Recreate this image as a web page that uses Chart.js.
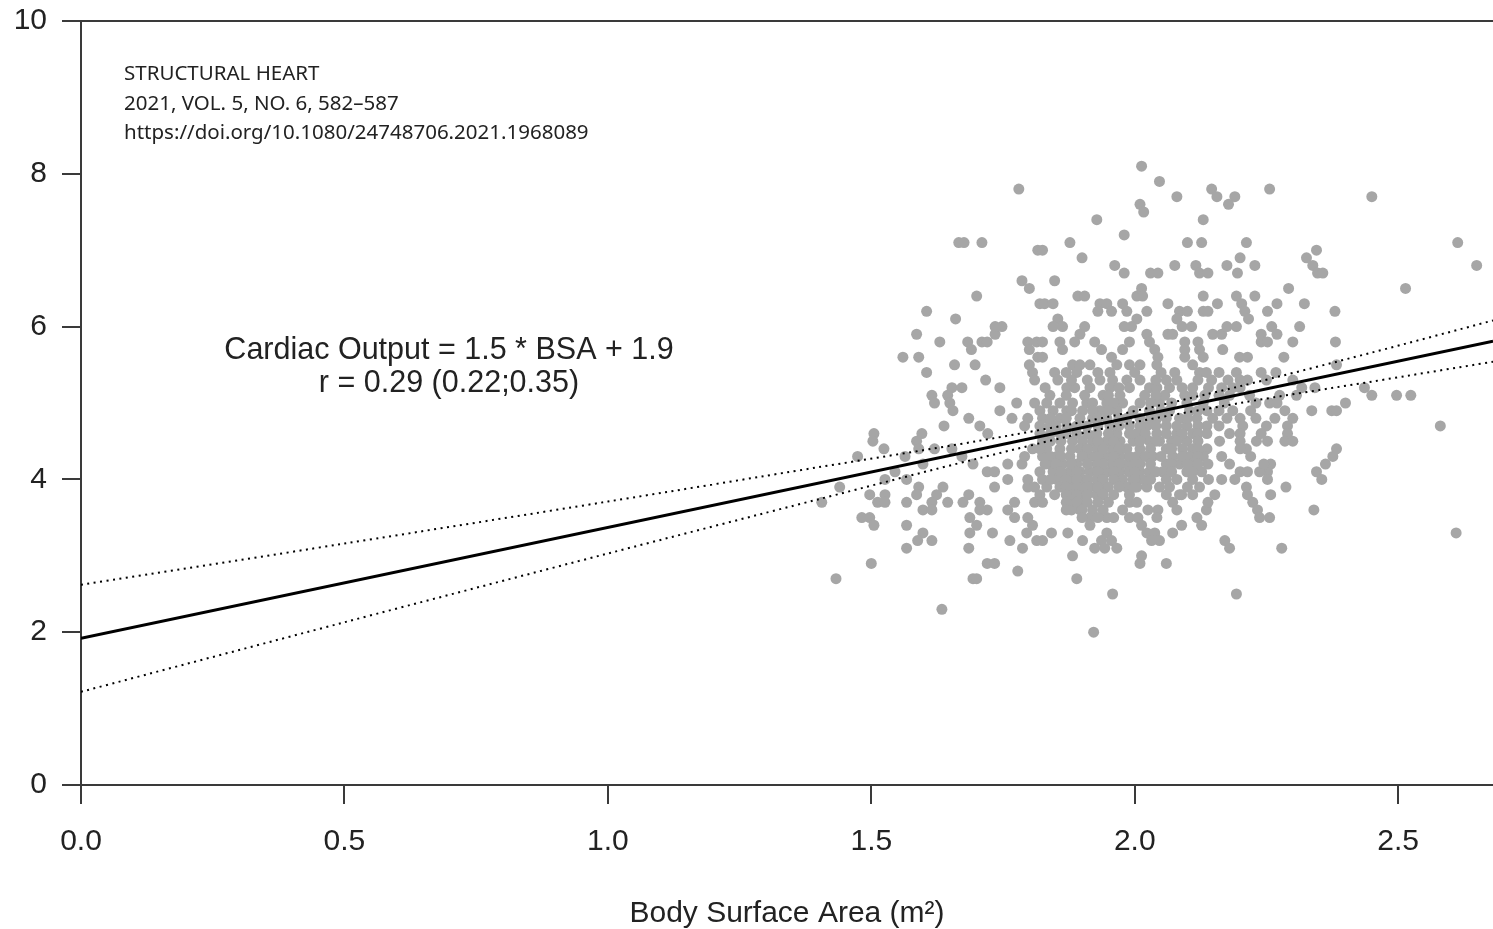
<!DOCTYPE html>
<html>
<head>
<meta charset="utf-8">
<title>Cardiac output vs body surface area</title>
<script src="https://cdn.jsdelivr.net/npm/chart.js@4.4.1/dist/chart.umd.min.js"></script>
<style>
  html, body { margin: 0; padding: 0; background: #fff; }
  #wrap { width: 1493px; height: 929px; position: relative; }
</style>
</head>
<body>
<div id="wrap"><canvas id="my-chart"></canvas></div>
<script>
'use strict';

// DATA (BSA in m², cardiac output in L/min)

let patients = [
  [1.78, 7.8], [1.666, 7.1], [1.676, 7.1], [1.71, 7.1], [1.816, 7.0], [1.786, 6.6], [1.80, 6.5],
  [1.70, 6.4], [1.605, 6.2], [1.66, 6.1], [1.586, 5.9], [1.63, 5.8], [1.683, 5.8], [1.69, 5.7],
  [1.71, 5.8], [1.72, 5.8], [1.735, 5.9], [1.748, 6.0], [1.735, 6.0], [1.56, 5.6], [1.59, 5.6],
  [1.605, 5.4], [1.658, 5.5], [1.697, 5.5], [1.717, 5.3], [1.744, 5.2], [1.653, 5.2], [1.672, 5.2],
  [1.615, 5.1], [1.645, 5.1], [1.797, 5.8], [1.814, 5.8], [1.80, 5.7], [1.80, 5.5], [1.806, 5.4],
  [1.81, 5.3], [1.816, 5.6], [1.82, 6.3],

  [2.013, 8.1], [2.047, 7.9], [2.08, 7.7], [2.01, 7.6], [2.017, 7.5], [2.146, 7.8], [2.156, 7.7],
  [2.19, 7.7], [2.178, 7.6], [1.928, 7.4], [2.13, 7.4], [1.98, 7.2], [1.877, 7.1], [2.10, 7.1],
  [2.127, 7.1], [2.212, 7.1], [1.825, 7.0], [1.90, 6.9], [2.20, 6.9], [1.962, 6.8], [1.98, 6.7],
  [2.03, 6.7], [2.044, 6.7], [2.076, 6.8], [2.116, 6.8], [2.123, 6.7], [2.139, 6.7], [2.175, 6.8],
  [2.195, 6.7], [2.228, 6.8], [1.848, 6.6], [2.013, 6.5], [2.004, 6.4], [2.015, 6.4], [1.829, 6.3],
  [1.845, 6.3], [1.892, 6.4], [1.905, 6.4], [1.934, 6.3], [1.947, 6.3], [1.977, 6.3], [1.985, 6.2],
  [2.063, 6.3], [2.13, 6.4], [2.157, 6.3], [2.193, 6.4], [2.203, 6.3], [2.209, 6.2], [2.216, 6.1],
  [2.228, 6.4], [1.93, 6.2], [1.956, 6.2], [2.023, 6.2], [2.085, 6.2], [2.10, 6.2], [2.08, 6.1],
  [2.09, 6.0], [2.108, 6.0], [2.13, 6.2], [2.139, 6.2], [1.854, 6.1], [1.845, 6.0], [1.863, 6.0],
  [1.905, 6.0], [1.896, 5.9], [1.886, 5.8], [2.004, 6.1], [1.994, 6.0], [1.98, 6.0], [2.023, 5.9],
  [2.028, 5.8], [2.038, 5.7], [2.044, 5.6], [2.042, 5.5], [2.063, 5.9], [2.072, 5.9], [2.095, 5.8],
  [2.095, 5.7], [2.095, 5.6], [2.12, 5.8], [2.123, 5.7], [2.13, 5.6], [2.148, 5.9], [2.165, 5.9],
  [2.175, 6.0], [2.193, 6.0], [2.167, 5.7], [2.199, 5.6], [2.214, 5.6], [2.24, 5.9], [2.24, 5.8],
  [1.825, 5.8], [1.825, 5.6], [1.858, 5.8], [1.863, 5.7], [1.924, 5.8], [1.937, 5.7], [1.956, 5.6],
  [1.966, 5.5], [1.953, 5.4], [1.977, 5.7], [1.99, 5.8], [1.882, 5.5], [1.896, 5.5], [1.89, 5.4],
  [1.915, 5.5], [1.848, 5.4], [1.854, 5.3], [1.871, 5.2], [1.886, 5.2], [1.915, 5.2], [1.99, 5.5],
  [2.01, 5.5], [1.985, 5.3], [2.01, 5.3], [2.028, 5.2], [2.042, 5.2], [2.076, 5.4], [2.08, 5.3],
  [2.11, 5.5], [2.123, 5.4], [2.136, 5.4], [2.146, 5.3], [2.165, 5.2], [2.186, 5.2], [2.193, 5.4],
  [2.214, 5.3], [1.934, 5.3], [1.94, 5.1],

  [2.256, 7.8], [2.45, 7.7], [2.613, 7.1], [2.649, 6.8], [2.345, 7.0], [2.326, 6.9], [2.338, 6.8],
  [2.347, 6.7], [2.357, 6.7], [2.292, 6.5], [2.514, 6.5], [2.27, 6.3], [2.252, 6.2], [2.322, 6.3],
  [2.38, 6.2], [2.26, 6.0], [2.27, 5.9], [2.252, 5.8], [2.313, 6.0], [2.30, 5.8], [2.381, 5.8],
  [2.283, 5.6], [2.383, 5.5], [2.268, 5.4], [2.25, 5.3], [2.30, 5.3], [2.317, 5.2], [2.342, 5.2],
  [2.436, 5.2], [2.45, 5.1], [2.497, 5.1], [2.524, 5.1], [2.275, 5.1], [2.307, 5.1], [2.40, 5.0],

  [2.336, 4.9], [2.374, 4.9], [2.383, 4.9], [2.285, 4.9], [2.266, 4.8], [2.30, 4.8], [2.256, 5.0],
  [2.27, 5.0], [2.58, 4.7], [2.29, 4.7], [2.29, 4.6], [2.285, 4.5], [2.30, 4.5], [2.252, 4.5],
  [2.383, 4.4], [2.376, 4.3], [2.362, 4.2], [2.345, 4.1], [2.355, 4.0], [2.258, 4.2], [2.252, 4.1],
  [2.252, 4.0], [2.287, 3.9], [2.258, 3.8], [2.34, 3.6], [2.256, 3.5], [2.61, 3.3], [2.279, 3.1],

  [1.62, 5.0], [1.649, 5.0], [1.655, 4.9], [1.744, 4.9], [1.776, 5.0], [1.767, 4.8], [1.797, 4.8],
  [1.81, 5.0], [1.685, 4.8], [1.706, 4.7], [1.721, 4.6], [1.638, 4.7], [1.505, 4.6], [1.503, 4.5],
  [1.596, 4.6], [1.586, 4.5], [1.59, 4.4], [1.524, 4.4], [1.474, 4.3], [1.564, 4.3], [1.62, 4.4],
  [1.653, 4.4], [1.672, 4.3], [1.693, 4.2], [1.598, 4.2], [1.526, 4.0], [1.545, 4.1], [1.44, 3.9],
  [1.406, 3.7], [1.497, 3.8], [1.512, 3.7], [1.526, 3.8], [1.526, 3.7], [1.567, 4.0], [1.567, 3.7],
  [1.59, 3.9], [1.586, 3.8], [1.636, 3.9], [1.624, 3.8], [1.615, 3.7], [1.598, 3.6], [1.615, 3.6],
  [1.645, 3.7], [1.685, 3.8], [1.674, 3.7], [1.72, 4.1], [1.734, 4.1], [1.734, 3.9], [1.706, 3.7],
  [1.72, 3.6], [1.706, 3.6], [1.687, 3.5], [1.70, 3.4], [1.687, 3.3], [1.73, 3.3], [1.482, 3.5],
  [1.497, 3.5], [1.505, 3.4], [1.567, 3.4], [1.598, 3.3], [1.588, 3.2], [1.615, 3.2], [1.567, 3.1],
  [1.685, 3.1], [1.50, 2.9], [1.433, 2.7], [1.72, 2.9], [1.734, 2.9], [1.693, 2.7], [1.70, 2.7],
  [1.778, 2.8], [1.634, 2.3], [1.763, 3.2], [1.787, 3.1], [1.795, 3.3], [1.806, 3.4], [1.797, 3.5],
  [1.759, 3.6], [1.772, 3.7], [1.772, 3.5], [1.81, 3.7], [1.814, 3.2], [1.759, 4.2], [1.759, 4.0],
  [1.786, 4.2], [1.797, 4.0], [1.797, 3.9], [1.81, 3.9], [1.791, 4.3], [1.806, 4.4], [1.791, 4.7],

  [1.915, 3.5], [1.915, 3.4], [1.947, 3.5], [1.825, 3.2], [1.842, 3.3], [1.873, 3.3], [1.901, 3.2],
  [1.924, 3.1], [1.937, 3.2], [1.947, 3.3], [1.956, 3.2], [1.943, 3.1], [1.966, 3.1], [1.882, 3.0],
  [1.89, 2.7], [1.958, 2.5], [1.922, 2.0], [2.013, 3.0], [2.01, 2.9], [2.06, 2.9], [2.193, 2.5],
  [2.171, 3.2], [2.18, 3.1], [2.023, 3.3], [2.038, 3.3], [2.047, 3.2], [2.032, 3.2], [2.072, 3.3],
  [2.089, 3.4], [1.977, 3.6], [1.99, 3.7], [2.004, 3.7], [1.99, 3.5], [2.006, 3.5], [2.025, 3.6],
  [2.044, 3.6], [2.013, 3.4], [2.042, 3.5], [2.072, 3.7], [2.089, 3.8], [2.08, 3.6], [2.118, 3.5],
  [2.127, 3.4], [2.136, 3.6], [2.139, 3.7], [2.152, 3.8], [2.123, 3.9], [2.165, 4.0], [2.161, 4.5],
  [2.212, 4.4], [2.231, 4.5], [2.19, 4.0], [2.20, 4.1], [2.214, 4.1], [2.237, 4.1], [2.212, 3.9],
  [2.214, 3.8], [2.224, 3.7], [2.233, 3.6], [2.237, 3.5], [2.175, 4.8], [2.186, 4.9], [2.20, 4.8],
  [2.205, 4.7], [2.148, 4.8], [2.165, 4.3], [2.18, 4.6], [2.245, 4.2],

  [1.825, 4.5], [1.882, 4.5], [1.901, 4.5], [1.92, 4.5], [1.947, 4.5], [1.972, 4.5], [1.997, 4.5],
  [2.028, 4.5], [2.047, 4.5], [2.07, 4.5], [2.099, 4.5],
  [1.833, 4.4], [1.858, 4.4], [1.896, 4.4], [1.928, 4.4], [1.958, 4.4], [1.985, 4.4], [2.01, 4.4],
  [2.06, 4.4], [2.091, 4.4], [2.11, 4.4], [2.137, 4.4],
  [1.825, 4.3], [1.852, 4.3], [1.877, 4.3], [1.915, 4.3], [1.947, 4.3], [1.972, 4.3], [2.004, 4.3],
  [2.034, 4.3], [2.072, 4.3], [2.104, 4.3], [2.13, 4.3],
  [1.839, 4.2], [1.863, 4.2], [1.89, 4.2], [1.928, 4.2], [1.958, 4.2], [1.985, 4.2], [2.01, 4.2],
  [2.06, 4.2], [2.085, 4.2], [2.11, 4.2], [2.139, 4.2],
  [1.82, 4.1], [1.845, 4.1], [1.877, 4.1], [1.896, 4.1], [1.915, 4.1], [1.947, 4.1], [1.972, 4.1],
  [1.99, 4.1], [2.01, 4.1], [2.028, 4.1], [2.053, 4.1], [2.099, 4.1], [2.127, 4.1],
  [1.825, 4.0], [1.852, 4.0], [1.882, 4.0], [1.901, 4.0], [1.928, 4.0], [1.977, 4.0], [1.997, 4.0],
  [2.015, 4.0], [2.06, 4.0],
  [1.833, 3.9], [1.858, 3.9], [1.877, 3.9], [1.896, 3.9], [1.915, 3.9], [1.934, 3.9], [1.985, 3.9],
  [2.004, 3.9], [2.023, 3.9], [2.047, 3.9], [2.066, 3.9],
  [1.82, 3.8], [1.848, 3.8], [1.882, 3.8], [1.901, 3.8], [1.928, 3.8], [2.085, 3.8],
  [1.825, 3.7], [1.882, 3.7], [1.896, 3.7], [1.88, 3.6], [1.896, 3.6],
  [1.833, 5.0], [1.858, 5.0], [1.882, 5.0], [1.909, 5.0], [1.947, 5.0], [1.977, 5.0], [2.01, 5.0],
  [2.047, 5.0], [2.099, 5.0],
  [1.82, 4.9], [1.845, 4.9], [1.871, 4.9], [1.901, 4.9], [1.934, 4.9], [1.966, 4.9], [1.997, 4.9],
  [2.028, 4.9], [2.066, 4.9], [2.104, 4.9], [2.137, 4.9],
  [1.825, 4.8], [1.858, 4.8], [1.896, 4.8], [1.92, 4.8], [1.947, 4.8], [1.985, 4.8], [2.01, 4.8],
  [2.042, 4.8], [2.085, 4.8], [2.118, 4.8],
  [1.839, 4.7], [1.871, 4.7], [1.909, 4.7], [1.953, 4.7], [1.99, 4.7], [2.023, 4.7], [2.06, 4.7],
  [2.099, 4.7], [2.137, 4.7],
  [1.82, 4.6], [1.858, 4.6], [1.89, 4.6], [1.928, 4.6], [1.966, 4.6], [2.004, 4.6], [2.042, 4.6],
  [2.08, 4.6], [2.11, 4.6], [2.137, 4.6],
  [1.839, 5.1], [1.905, 5.1], [1.972, 5.1], [2.019, 5.1], [2.057, 5.1], [2.095, 5.1], [2.133, 5.1],
  [2.18, 5.1], [2.218, 5.1],
  [1.953, 5.2], [1.99, 5.2], [2.066, 5.2], [2.11, 5.2], [1.958, 5.3], [2.04, 5.3], [2.06, 5.3],
  [2.177, 5.3],

  // centre of the cloud, where the dots overlap
  [1.87, 5.4], [1.93, 5.4], [2.0, 5.4], [2.05, 5.4], [2.16, 5.4], [2.24, 5.4],
  [1.88, 5.3], [1.91, 5.3], [2.12, 5.3], [2.2, 5.3],
  [1.83, 5.2], [1.97, 5.2], [2.09, 5.2], [2.14, 5.2], [2.2, 5.2],
  [1.87, 5.1], [1.95, 5.1], [2.04, 5.1], [2.11, 5.1], [2.16, 5.1],
  [1.92, 5.0], [1.96, 5.0], [2.03, 5.0], [2.07, 5.0], [2.13, 5.0], [2.17, 5.0], [2.23, 5.0],
  [1.88, 4.9], [1.92, 4.9], [1.95, 4.9], [2.05, 4.9], [2.12, 4.9], [2.16, 4.9], [2.22, 4.9],
  [1.84, 4.8], [1.87, 4.8], [1.93, 4.8], [1.97, 4.8], [2.03, 4.8], [2.06, 4.8], [2.1, 4.8], [2.23, 4.8],
  [1.82, 4.7], [1.85, 4.7], [1.89, 4.7], [1.93, 4.7], [1.97, 4.7], [2.01, 4.7], [2.04, 4.7],
  [2.08, 4.7], [2.12, 4.7], [2.16, 4.7], [2.25, 4.7],
  [1.84, 4.6], [1.87, 4.6], [1.91, 4.6], [1.95, 4.6], [1.99, 4.6], [2.02, 4.6], [2.06, 4.6],
  [2.09, 4.6], [2.12, 4.6], [2.2, 4.6], [2.24, 4.6],
  [1.84, 4.5], [1.86, 4.5], [1.93, 4.5], [1.96, 4.5], [2.01, 4.5], [2.04, 4.5], [2.08, 4.5],
  [2.12, 4.5], [2.2, 4.5],
  [1.82, 4.4], [1.88, 4.4], [1.91, 4.4], [1.94, 4.4], [1.97, 4.4], [2.03, 4.4], [2.07, 4.4],
  [2.12, 4.4], [2.2, 4.4],
  [1.84, 4.3], [1.86, 4.3], [1.9, 4.3], [1.93, 4.3], [1.96, 4.3], [1.99, 4.3], [2.02, 4.3],
  [2.05, 4.3], [2.09, 4.3], [2.12, 4.3], [2.22, 4.3],
  [1.83, 4.2], [1.85, 4.2], [1.88, 4.2], [1.91, 4.2], [1.94, 4.2], [1.97, 4.2], [2.0, 4.2],
  [2.03, 4.2], [2.07, 4.2], [2.1, 4.2], [2.12, 4.2], [2.18, 4.2],
  [1.86, 4.1], [1.89, 4.1], [1.93, 4.1], [1.96, 4.1], [2.0, 4.1], [2.04, 4.1], [2.07, 4.1], [2.11, 4.1],
  [1.84, 4.0], [1.87, 4.0], [1.89, 4.0], [1.91, 4.0], [1.94, 4.0], [1.96, 4.0], [2.0, 4.0],
  [2.03, 4.0], [2.08, 4.0], [2.11, 4.0], [2.14, 4.0],
  [1.87, 3.9], [1.89, 3.9], [1.91, 3.9], [1.93, 3.9], [1.95, 3.9], [1.97, 3.9], [2.0, 3.9], [2.1, 3.9],
  [1.87, 3.8], [1.89, 3.8], [1.91, 3.8], [1.94, 3.8], [1.96, 3.8], [1.99, 3.8], [2.06, 3.8], [2.11, 3.8],
  [1.87, 3.7], [1.89, 3.7], [1.91, 3.7], [1.93, 3.7], [1.95, 3.7],
  [1.87, 3.6], [1.9, 3.6], [1.92, 3.6], [1.94, 3.6],
  [1.9, 3.5], [1.93, 3.5], [1.96, 3.5]
];

// regression line and its confidence band
let fitBsa = [0, 2.68];
let fitCo = [1.92, 5.81];
let bandBsa = [0, 0.5, 1.0, 1.4, 1.7, 1.95, 2.2, 2.45, 2.68];
let bandUpper = [2.62, 3.16, 3.71, 4.16, 4.50, 4.82, 5.22, 5.66, 6.08];
let bandLower = [1.22, 2.13, 3.03, 3.74, 4.27, 4.68, 5.00, 5.28, 5.54];

let xTicks = [0, 0.5, 1.0, 1.5, 2.0, 2.5];
let yTicks = [0, 2, 4, 6, 8, 10];

let sourceLines = [
  'STRUCTURAL HEART',
  '2021, VOL. 5, NO. 6, 582–587',
  'https://doi.org/10.1080/24748706.2021.1968089'
];
let equationLines = ['Cardiac Output = 1.5 * BSA + 1.9', 'r = 0.29 (0.22;0.35)'];

// HELPERS

function toXY(xs, ys) {
  let out = [];
  for (let i = 0; i < xs.length; i++) {
    out.push({ x: xs[i], y: ys[i] });
  }
  return out;
}

let axisFont = { family: '"Liberation Sans", Arial, sans-serif', size: 30 };
let titleFont = { family: '"Liberation Sans", Arial, sans-serif', size: 30, lineHeight: 1 };
let inkColor = '#222';
let axisColor = '#3a3a3a';

// annotation text drawn on top of the plot
let chartText = {
  id: 'chartText',
  afterDraw(chart) {
    let c = chart.ctx;
    c.save();
    c.fillStyle = '#222';
    c.textAlign = 'left';
    c.textBaseline = 'alphabetic';
    c.font = '20.5px "Noto Sans", sans-serif';
    for (let i = 0; i < sourceLines.length; i++) {
      c.fillText(sourceLines[i], 124, 80 + i * 29.5);
    }
    c.fillStyle = inkColor;
    c.textAlign = 'center';
    c.font = '30.5px "Liberation Sans", Arial, sans-serif';
    for (let i = 0; i < equationLines.length; i++) {
      c.fillText(equationLines[i], 449, 359 + i * 33);
    }
    c.restore();
  }
};

// CHART

let ctx = document.getElementById('my-chart').getContext('2d');

new Chart(ctx, {
  type: 'scatter',
  data: {
    datasets: [
      {
        label: 'Fit',
        data: toXY(fitBsa, fitCo),
        showLine: true,
        borderColor: '#000',
        borderWidth: 3,
        pointRadius: 0
      },
      {
        label: 'Upper 95% CI',
        data: toXY(bandBsa, bandUpper),
        showLine: true,
        borderColor: '#000',
        borderWidth: 2,
        borderDash: [2, 4.5],
        tension: 0.3,
        pointRadius: 0
      },
      {
        label: 'Lower 95% CI',
        data: toXY(bandBsa, bandLower),
        showLine: true,
        borderColor: '#000',
        borderWidth: 2,
        borderDash: [2, 4.5],
        tension: 0.3,
        pointRadius: 0
      },
      {
        label: 'Patients',
        data: patients.map(p => ({ x: p[0], y: p[1] })),
        backgroundColor: '#a6a6a6',
        borderWidth: 0,
        pointRadius: 5.5
      }
    ]
  },
  options: {
    responsive: true,
    maintainAspectRatio: false,
    animation: false,
    layout: {
      autoPadding: false,
      padding: { top: 21, right: 0, bottom: 0, left: 0 }
    },
    plugins: {
      legend: { display: false },
      tooltip: { enabled: false }
    },
    scales: {
      x: {
        type: 'linear',
        min: 0,
        max: 2.68,
        afterBuildTicks: s => { s.ticks = xTicks.map(v => ({ value: v })); },
        afterFit: s => {
          s.height = 144;
          s.paddingLeft = 0;
          s.paddingRight = 0;
        },
        grid: {
          drawOnChartArea: false,
          color: axisColor,
          tickColor: axisColor,
          tickLength: 19,
          lineWidth: 2
        },
        border: { color: axisColor, width: 2 },
        ticks: {
          font: axisFont,
          color: inkColor,
          padding: 20,
          maxRotation: 0,
          callback: v => Number(v).toFixed(1)
        },
        title: {
          display: true,
          text: 'Body Surface Area (m²)',
          font: titleFont,
          color: inkColor,
          padding: { top: 0, bottom: 0 }
        }
      },
      y: {
        min: 0,
        max: 10,
        afterBuildTicks: s => { s.ticks = yTicks.map(v => ({ value: v })); },
        afterFit: s => {
          s.width = 81;
          s.paddingTop = 0;
          s.paddingBottom = 0;
        },
        grid: {
          color: c => (c.tick && c.tick.value === 10 ? axisColor : 'transparent'),
          tickColor: axisColor,
          tickLength: 19,
          lineWidth: 2
        },
        border: { color: axisColor, width: 2 },
        ticks: {
          font: axisFont,
          color: inkColor,
          padding: 15
        }
      }
    }
  },
  plugins: [chartText]
});
</script>
</body>
</html>
